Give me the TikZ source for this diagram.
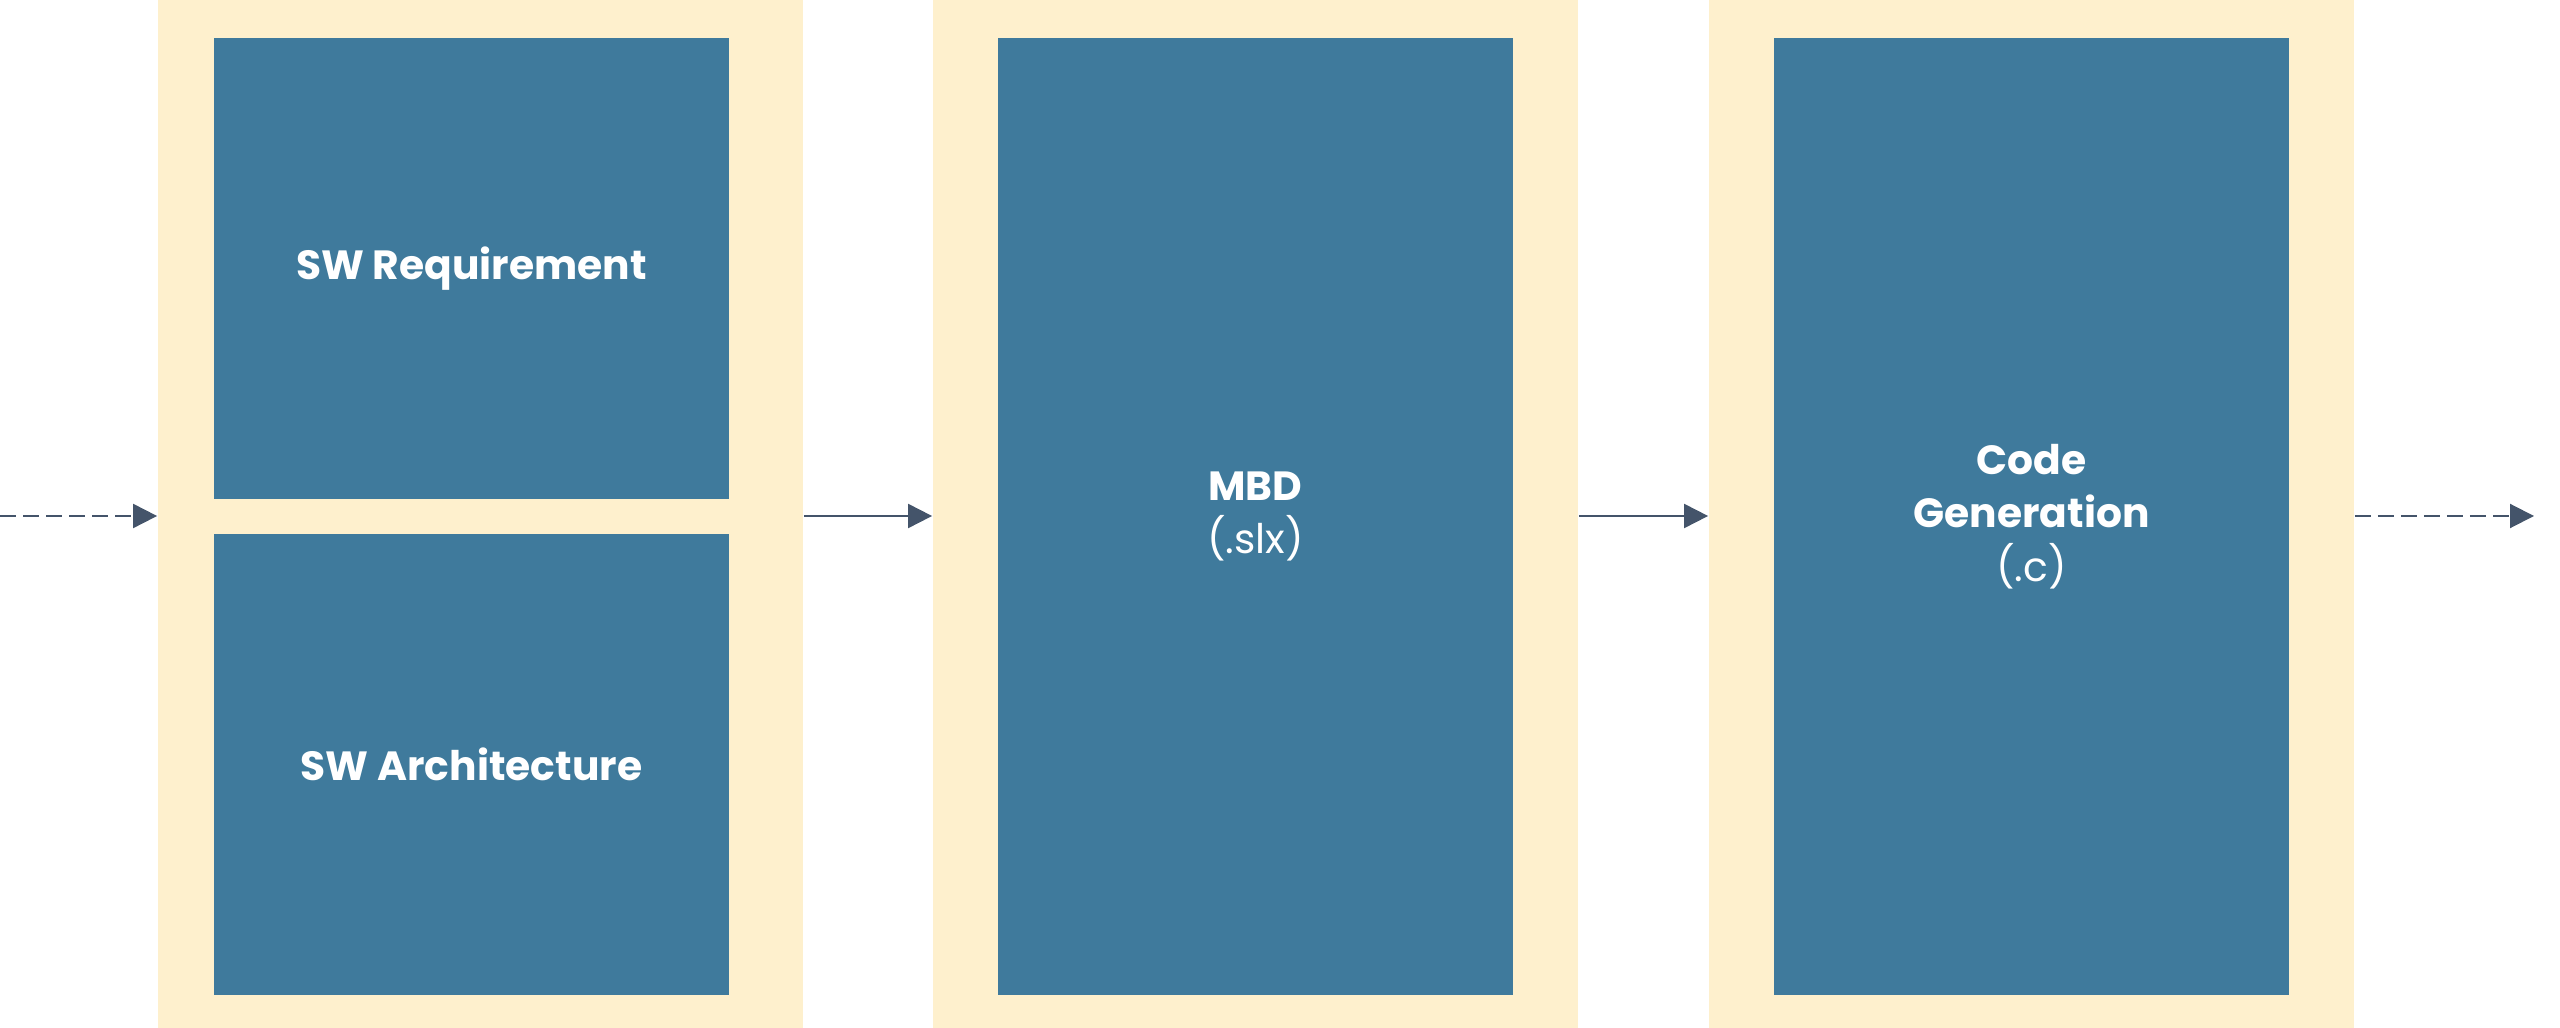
\documentclass[tikz,border=0pt]{standalone}
\usepackage{fontspec}
\setmainfont{Poppins}
\usetikzlibrary{arrows.meta}

\definecolor{panelcream}{HTML}{FEF0CD}
\definecolor{boxblue}{HTML}{3F7A9C}
\definecolor{arrowslate}{HTML}{44546A}

\begin{document}
\begin{tikzpicture}[x=0.01cm,y=-0.01cm,
		panel/.style={fill=panelcream,draw=none,minimum width=6.45cm,minimum height=10.28cm,inner sep=0pt},
		stage/.style={fill=boxblue,draw=none,minimum width=5.15cm,inner sep=0pt,text=white,align=center,font=\fontsize{11.6}{15.2}\selectfont},
		flow/.style={draw=arrowslate,line width=0.02cm,-{Triangle[length=0.24cm,width=0.24cm]}},
		loose/.style={flow,dash pattern=on 0.16cm off 0.07cm}]
		\useasboundingbox (0,0) rectangle (2560,1028);

		\node[panel] (P1) at (480.5,514){};
		\node[panel] (P2) at (1255.5,514){};
		\node[panel] (P3) at (2031.5,514){};

		\node[stage,minimum height=4.61cm] (REQ) at (471.5,268.5){\textbf{SW Requirement}};
		\node[stage,minimum height=4.61cm] (ARCH) at (471.5,764.5){\textbf{SW Architecture}};
		\node[stage,minimum height=9.57cm] (MBD) at (1255.5,516.5){\textbf{MBD}\\(.slx)};
		\node[stage,minimum height=9.57cm] (GEN) at (2031.5,516.5){\textbf{Code}\\\textbf{Generation}\\(.c)};

		\coordinate (IN) at (0,516);
		\coordinate (OUT) at (2534,516);

		\draw[loose] (IN) -- (IN -| P1.west);
		\draw[flow] (P1.east |- IN) -- (P2.west |- IN);
		\draw[flow] (P2.east |- IN) -- (P3.west |- IN);
		\draw[loose] (P3.east |- IN) -- (OUT);

	\end{tikzpicture}
\end{document}
